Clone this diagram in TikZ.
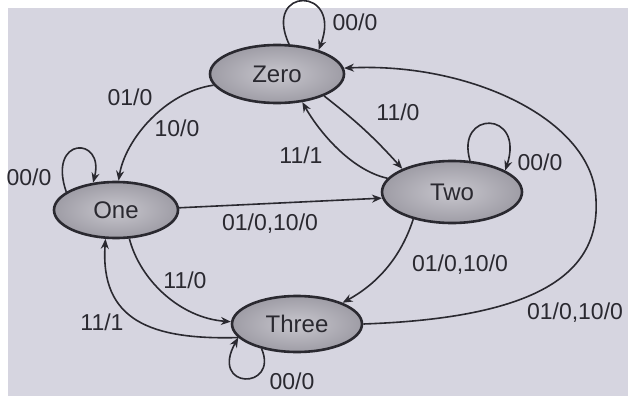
\documentclass[tikz,border=0pt]{standalone}
\usepackage{fontspec}
\setmainfont{Liberation Sans}
\usetikzlibrary{shapes.geometric,arrows.meta}
\definecolor{bg}{RGB}{214,213,224}
\definecolor{st}{RGB}{176,174,184}
\definecolor{ink}{RGB}{42,41,48}
\begin{document}
\begin{tikzpicture}[x=1pt,y=-1pt,
  state/.style={ellipse, draw=ink, line width=2.6pt, inner color=st!70!white, outer color=st!90!black, inner sep=0pt, font=\fontsize{24}{28}\selectfont, text=ink},
  edge/.style={draw=ink, line width=1.6pt, -{Stealth[length=10pt,width=8pt]}},
  lab/.style={font=\fontsize{23}{27}\selectfont, text=ink, inner sep=0pt}]
\useasboundingbox (0,0) rectangle (628,396);
\fill[white] (0,0) rectangle (628,396);
\fill[bg] (8,8) rectangle (628,396);
% states
\node[state, minimum width=134pt, minimum height=58pt] (zero) at (277,74) {Zero};
\node[state, minimum width=124pt, minimum height=56pt] (one) at (116,210) {One};
\node[state, minimum width=140pt, minimum height=62pt] (two) at (452,192) {Two};
\node[state, minimum width=130pt, minimum height=56pt] (three) at (297,324) {Three};
\coordinate (c1) at (596,200);
% self loops
\draw[edge] (zero.68) .. controls (262,-14) and (343,-14) .. (zero.30);
\draw[edge] (one.160) .. controls (47,136) and (105,136) .. (one.130);
\draw[edge] (two.60) .. controls (455,110) and (525,110) .. (two.22);
\draw[edge] (three.-145) .. controls (279,390) and (209,390) .. (three.-167);
% transitions
\draw[edge] (zero.190) .. controls (165,92) and (125,140) .. (one.85);
\draw[edge] (zero.-25) to[bend left=5] (two.155);
\draw[edge] (two.168) .. controls (350,170) and (318,130) .. (zero.-48);
\draw[edge] (one.2) -- (two.185);
\draw[edge] (two.-145) .. controls (400,260) and (375,285) .. (three.25);
\draw[edge] (three.east) .. controls (535,318) and (600,275) .. (c1) .. controls (594,120) and (470,62) .. (zero.5);
\draw[edge] (one.-65) .. controls (140,280) and (180,318) .. (three.178);
\draw[edge] (three.193) .. controls (150,340) and (100,320) .. (one.-110);
% labels
\node[lab] (l1) at (355,22) {00/0};
\node[lab] (l2) at (130,97) {01/0};
\node[lab] (l3) at (177,128) {10/0};
\node[lab] (l4) at (29,177) {00/0};
\node[lab] (l5) at (398,112) {11/0};
\node[lab] (l6) at (301,155) {11/1};
\node[lab] (l7) at (540,162) {00/0};
\node[lab] (l8) at (270,224) {01/0,10/0};
\node[lab] (l9) at (460,265) {01/0,10/0};
\node[lab] (l10) at (575,313) {01/0,10/0};
\node[lab] (l11) at (185,280) {11/0};
\node[lab] (l12) at (102,322) {11/1};
\node[lab] (l13) at (292,381) {00/0};
\end{tikzpicture}
\end{document}
